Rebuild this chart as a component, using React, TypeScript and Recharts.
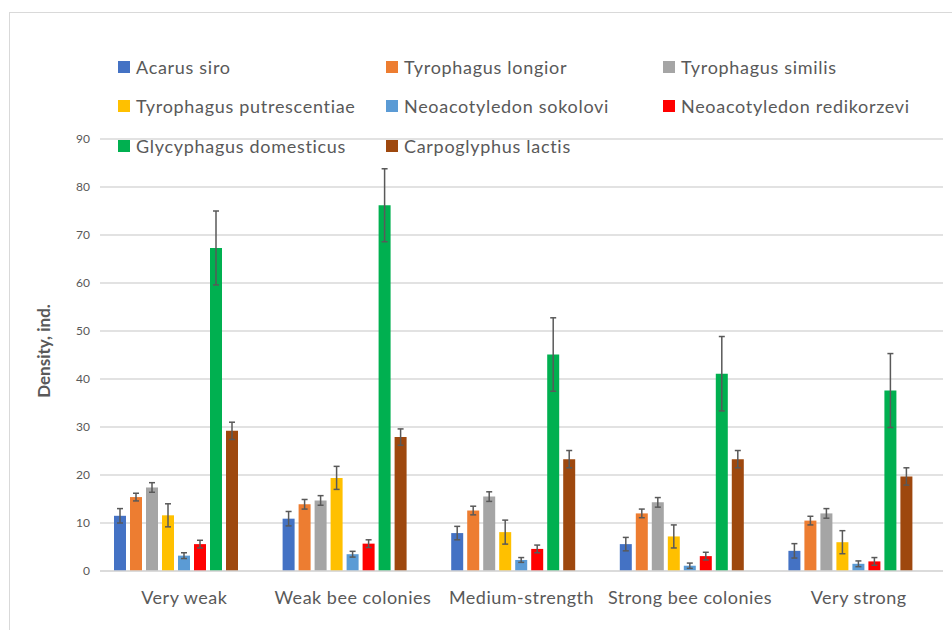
import React from 'react';
import { BarChart, Bar, XAxis, YAxis, CartesianGrid, ErrorBar, Legend } from 'recharts';

const categories = ['Very weak', 'Weak bee colonies', 'Medium-strength', 'Strong bee colonies', 'Very strong'];

const acarusSiro = [11.5, 10.9, 7.9, 5.6, 4.2];
const acarusSiroErr = [1.5, 1.5, 1.4, 1.4, 1.5];
const tyrLongior = [15.4, 13.9, 12.6, 12.0, 10.5];
const tyrLongiorErr = [0.8, 1.0, 0.9, 0.9, 0.9];
const tyrSimilis = [17.4, 14.7, 15.5, 14.3, 12.0];
const tyrSimilisErr = [1.0, 1.0, 1.0, 1.0, 1.0];
const tyrPutrescentiae = [11.6, 19.4, 8.1, 7.2, 6.0];
const tyrPutrescentiaeErr = [2.4, 2.4, 2.5, 2.4, 2.4];
const neoSokolovi = [3.2, 3.5, 2.3, 1.1, 1.5];
const neoSokoloviErr = [0.6, 0.6, 0.5, 0.55, 0.6];
const neoRedikorzevi = [5.6, 5.7, 4.6, 3.1, 2.0];
const neoRedikorzeviErr = [0.8, 0.8, 0.8, 0.8, 0.8];
const glyDomesticus = [67.3, 76.2, 45.1, 41.1, 37.6];
const glyDomesticusErr = [7.7, 7.6, 7.65, 7.75, 7.7];
const carLactis = [29.2, 27.9, 23.3, 23.3, 19.7];
const carLactisErr = [1.8, 1.7, 1.8, 1.8, 1.8];

const yTicks = [0, 10, 20, 30, 40, 50, 60, 70, 80, 90];

const series = [
  { key: 'acarus', name: 'Acarus siro', color: '#4472C4', values: acarusSiro, err: acarusSiroErr },
  { key: 'longior', name: 'Tyrophagus longior', color: '#ED7D31', values: tyrLongior, err: tyrLongiorErr },
  { key: 'similis', name: 'Tyrophagus similis', color: '#A5A5A5', values: tyrSimilis, err: tyrSimilisErr },
  { key: 'putres', name: 'Tyrophagus putrescentiae', color: '#FFC000', values: tyrPutrescentiae, err: tyrPutrescentiaeErr },
  { key: 'sokolovi', name: 'Neoacotyledon sokolovi', color: '#5B9BD5', values: neoSokolovi, err: neoSokoloviErr },
  { key: 'redik', name: 'Neoacotyledon redikorzevi', color: '#FF0000', values: neoRedikorzevi, err: neoRedikorzeviErr },
  { key: 'glyc', name: 'Glycyphagus domesticus', color: '#00B050', values: glyDomesticus, err: glyDomesticusErr },
  { key: 'carpo', name: 'Carpoglyphus lactis', color: '#9E480E', values: carLactis, err: carLactisErr },
];

const data = categories.map((name, i) => {
  const row: Record<string, any> = { name };
  series.forEach((s) => {
    row[s.key] = s.values[i];
    row[s.key + 'Err'] = s.err[i];
  });
  return row;
});

const FONT = 'Lato, "Open Sans", sans-serif';
const TEXT = '#595959';

const renderLegend = () => (
  <div style={{ display: 'grid', gridTemplateColumns: '268px 277px 280px', fontFamily: FONT }}>
    {series.map((s) => (
      <div
        key={s.key}
        style={{ display: 'flex', alignItems: 'center', height: 39.5, fontSize: 18, letterSpacing: 0.7, color: TEXT, whiteSpace: 'nowrap' }}
      >
        <span style={{ display: 'inline-block', width: 12, height: 12, background: s.color, marginRight: 6 }} />
        {s.name}
      </div>
    ))}
  </div>
);

const YLabel = () => (
  <text
    x={43}
    y={351}
    transform="rotate(-90, 43, 351)"
    textAnchor="middle"
    dominantBaseline="central"
    fontFamily={FONT}
    fontSize={17}
    fontWeight={700}
    fill={TEXT}
  >
    Density, ind.
  </text>
);

export default function App() {
  return (
    <div style={{ position: 'absolute', left: 0, top: 0, width: 952, height: 630, background: '#fff', overflow: 'hidden' }}>
      <div style={{ position: 'absolute', left: 9, top: 12, width: 980, height: 660, border: '1px solid #d9d9d9' }} />
      <BarChart
        width={952}
        height={630}
        data={data}
        margin={{ top: 139, right: 9, bottom: 29, left: 60 }}
        barSize={12}
        barGap={4}
      >
        <CartesianGrid vertical={false} stroke="#d9d9d9" strokeWidth={1.3} />
        <XAxis
          dataKey="name"
          axisLine={{ stroke: '#d9d9d9', strokeWidth: 1.3 }}
          tickLine={false}
          tickMargin={14}
          tick={{ fontSize: 18, fill: TEXT, fontFamily: FONT, letterSpacing: 0.5 }}
          interval={0}
        />
        <YAxis
          width={40}
          domain={[0, 90]}
          ticks={yTicks}
          axisLine={false}
          tickLine={false}
          tickMargin={4}
          tick={{ fontSize: 12, fill: TEXT, fontFamily: FONT }}
          label={{ content: () => <YLabel /> }}
        />
        <Legend
          layout="horizontal"
          verticalAlign="middle"
          align="center"
          wrapperStyle={{ top: 47, left: 118, width: 830 }}
          content={renderLegend}
        />
        {series.map((s) => (
          <Bar key={s.key} dataKey={s.key} name={s.name} fill={s.color} isAnimationActive={false}>
            <ErrorBar dataKey={s.key + 'Err'} width={3} stroke="#595959" strokeWidth={1.5} direction="y" />
          </Bar>
        ))}
        <Bar dataKey="spacer" fill="transparent" legendType="none" isAnimationActive={false} />
      </BarChart>
    </div>
  );
}
